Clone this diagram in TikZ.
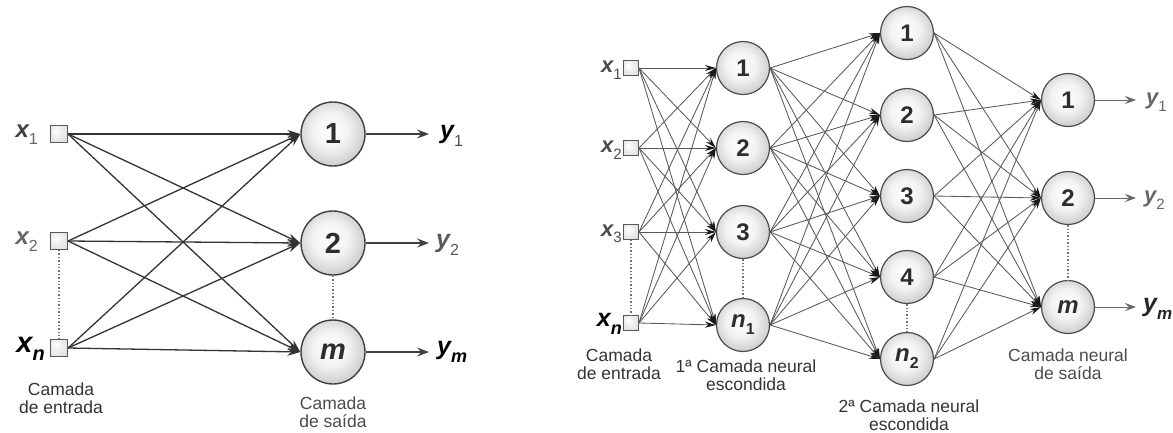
\documentclass[tikz,border=0pt]{standalone}
\usepackage{fontspec}
\setmainfont{Liberation Sans}
\usetikzlibrary{arrows.meta}
\pgfdeclareradialshading{neuronshade}{\pgfpoint{-3bp}{4bp}}{color(0bp)=(white); color(14bp)=(white!95!black); color(38bp)=(black!32); color(50bp)=(black!48)}
\pgfdeclareradialshading{boxshade}{\pgfpoint{-10bp}{10bp}}{color(0bp)=(white); color(30bp)=(red!8!black!12); color(50bp)=(red!15!black!30)}
\newcommand{\fs}[1]{\fontsize{#1}{#1}\selectfont}
\newcommand{\sub}[2]{\raisebox{-0.55ex}{\fs{#1}#2}}
\begin{document}
\begin{tikzpicture}[x=1pt,y=-1pt,
  neuronL/.style={circle, draw=black!75, line width=1.4pt, minimum size=64pt, inner sep=0pt, shading=neuronshade, font=\fs{29}\bfseries, text=black!82},
  neuronR/.style={circle, draw=black!70, line width=1.2pt, minimum size=53pt, inner sep=0pt, shading=neuronshade, font=\fs{24}\bfseries, text=black!82},
  inboxL/.style={rectangle, draw=black!65, line width=1.1pt, minimum size=17pt, inner sep=0pt, shading=boxshade},
  inboxR/.style={rectangle, draw=black!65, line width=1pt, minimum size=15pt, inner sep=0pt, shading=boxshade},
  conL/.style={draw=black!80, line width=1.3pt, -{Stealth[length=13pt,width=8pt]}},
  conR/.style={draw=black!65, line width=0.85pt, -{Stealth[length=11pt,width=6pt,color=black!90]}},
  outL/.style={draw=black!75, line width=1.2pt, -{Stealth[length=12pt,width=9pt,inset=4.5pt]}},
  outR/.style={draw=black!60, line width=1pt, -{Stealth[length=11pt,width=8pt,inset=4pt]}},
  dots/.style={draw=black!55, line width=1.4pt, dotted},
  vlab/.style={inner sep=0pt},
  caption/.style={align=center, font=\fs{17.5}, text=black!80, inner sep=0pt}
]
\path[use as bounding box] (0,0) rectangle (1173,432);

% ---------------- Left network ----------------
\node[inboxL] (xL1) at (59,134) {};
\node[inboxL] (xL2) at (59,241) {};
\node[inboxL] (xLn) at (59,348) {};
\node[vlab, anchor=east, text=black!75] (lxL1) at (38,135) {\fs{24}\bfseries\itshape x\sub{16}{\normalfont\color{black!60}1}};
\node[vlab, anchor=east, text=black!60] (lxL2) at (38,242) {\fs{24}\bfseries\itshape x\sub{16}{\normalfont 2}};
\node[vlab, anchor=east, text=black] (lxLn) at (45,349) {\fs{29}\bfseries\itshape x\sub{20}{n}};

\node[neuronL] (oL1) at (333,134) {1};
\node[neuronL] (oL2) at (333,243) {2};
\node[neuronL] (oLm) at (333,352) {\itshape m};

\foreach \i in {1,2,n}
  \foreach \j in {1,2,m}
    \draw[conL] (xL\i.east) -- (oL\j.west);

\draw[dots] (xL2.south) -- (xLn.north);
\draw[dots] (oL2.south) -- (oLm.north);

\node[vlab, anchor=west, text=black] (yL1) at (440,136) {\fs{25}\bfseries\itshape y\sub{16}{\normalfont\color{black!70}1}};
\node[vlab, anchor=west, text=black!65] (yL2) at (436,245) {\fs{25}\bfseries\itshape y\sub{16}{\normalfont 2}};
\node[vlab, anchor=west, text=black] (yLm) at (437,352) {\fs{25}\bfseries\itshape y\sub{18}{m}};
\coordinate (eL1) at (429,134);
\coordinate (eL2) at (429,243);
\coordinate (eLm) at (429,352);
\draw[outL] (oL1.east) -- (eL1);
\draw[outL] (oL2.east) -- (eL2);
\draw[outL] (oLm.east) -- (eLm);

\node[caption] (cL1) at (61,398) {Camada\\de entrada};
\node[caption, text=black!70] (cL2) at (333,412) {Camada\\de saída};

% ---------------- Right network ----------------
\node[inboxR] (xR1) at (631,68) {};
\node[inboxR] (xR2) at (631,148) {};
\node[inboxR] (xR3) at (631,232) {};
\node[inboxR] (xRn) at (631,323) {};
\node[vlab, anchor=east, text=black!70] (lxR1) at (622,70) {\fs{22}\bfseries\itshape x\sub{15}{\normalfont 1}};
\node[vlab, anchor=east, text=black!70] (lxR2) at (622,150) {\fs{22}\bfseries\itshape x\sub{15}{\normalfont 2}};
\node[vlab, anchor=east, text=black!70] (lxR3) at (622,234) {\fs{22}\bfseries\itshape x\sub{15}{\normalfont 3}};
\node[vlab, anchor=east, text=black] (lxRn) at (622,324) {\fs{25}\bfseries\itshape x\sub{18}{n}};

\node[neuronR] (hA1) at (743,68) {1};
\node[neuronR] (hA2) at (743,148) {2};
\node[neuronR] (hA3) at (743,232) {3};
\node[neuronR] (hAn) at (743,325) {\itshape n\sub{16}{\upshape 1}};

\node[neuronR] (hB1) at (907,33) {1};
\node[neuronR] (hB2) at (907,115) {2};
\node[neuronR] (hB3) at (907,196) {3};
\node[neuronR] (hB4) at (907,277) {4};
\node[neuronR] (hBn) at (907,359) {\itshape n\sub{16}{\upshape 2}};

\node[neuronR] (oR1) at (1068,100) {1};
\node[neuronR] (oR2) at (1068,198) {2};
\node[neuronR] (oRm) at (1068,307) {\itshape m};

\foreach \i in {1,2,3,n}
  \foreach \j in {1,2,3,n}
    \draw[conR] (xR\i.east) -- (hA\j.west);
\foreach \i in {1,2,3,n}
  \foreach \j in {1,2,3,4,n}
    \draw[conR] (hA\i.east) -- (hB\j.west);
\foreach \i in {1,2,3,4,n}
  \foreach \j in {1,2,m}
    \draw[conR] (hB\i.east) -- (oR\j.west);

\draw[dots] (xR3.south) -- (xRn.north);
\draw[dots] (hA3.south) -- (hAn.north);
\draw[dots] (hB4.south) -- (hBn.north);
\draw[dots] (oR2.south) -- (oRm.north);

\node[vlab, anchor=west, text=black!60] (yR1) at (1146,102) {\fs{22}\bfseries\itshape y\sub{15}{\normalfont 1}};
\node[vlab, anchor=west, text=black!60] (yR2) at (1144,200) {\fs{22}\bfseries\itshape y\sub{15}{\normalfont 2}};
\node[vlab, anchor=west, text=black!85] (yRm) at (1143,309) {\fs{25}\bfseries\itshape y\sub{17}{m}};
\coordinate (eR1) at (1136,100);
\coordinate (eR2) at (1136,198);
\coordinate (eRm) at (1136,307);
\draw[outR] (oR1.east) -- (eR1);
\draw[outR] (oR2.east) -- (eR2);
\draw[outR] (oRm.east) -- (eRm);

\node[caption] (cR1) at (619,364) {Camada\\de entrada};
\node[caption] (cR2) at (746,375) {1ª Camada neural\\escondida};
\node[caption] (cR3) at (909,415) {2ª Camada neural\\escondida};
\node[caption, text=black!70] (cR4) at (1068,364) {Camada neural\\de saída};
\end{tikzpicture}
\end{document}
